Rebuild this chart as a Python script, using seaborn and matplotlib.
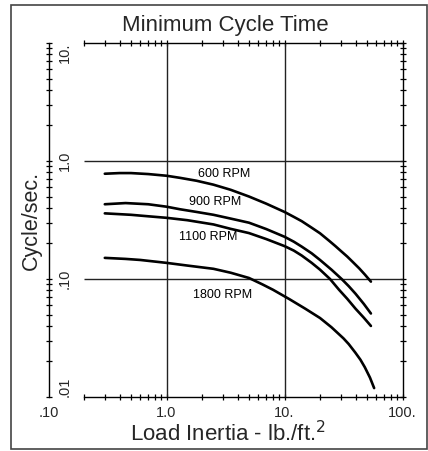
import pandas as pd
import seaborn as sns
import matplotlib.pyplot as plt
from matplotlib.ticker import LogLocator, NullFormatter
from matplotlib.patches import Rectangle

# values (load inertia lb-ft^2 -> cycles/sec)
inertia_600 = [0.3, 0.4, 0.5, 0.7, 1.0, 1.3, 1.8, 2.5, 3.5, 5, 7, 10, 12, 14, 17,
               20, 24, 27, 30, 34, 38, 43, 48, 54]
cycles_600 = [0.78, 0.79, 0.79, 0.775, 0.75, 0.72, 0.68, 0.63, 0.57, 0.50, 0.435,
              0.37, 0.336, 0.309, 0.272, 0.244, 0.21, 0.19, 0.173, 0.155, 0.139,
              0.123, 0.109, 0.095]

inertia_900 = [0.3, 0.45, 0.7, 1.0, 1.3, 1.8, 2.5, 3.5, 5, 7, 10, 12, 14, 17, 20,
               25, 30.5, 35, 40, 47, 54]
cycles_900 = [0.43, 0.44, 0.43, 0.41, 0.39, 0.37, 0.35, 0.325, 0.30, 0.265, 0.228,
              0.207, 0.188, 0.165, 0.145, 0.12, 0.10, 0.087, 0.075, 0.0615, 0.051]

inertia_1100 = [0.3, 0.5, 0.7, 1.0, 1.5, 2.5, 3.5, 5, 7, 10, 12, 14, 17, 20, 24.3,
                29, 34, 40, 47, 54]
cycles_1100 = [0.36, 0.35, 0.34, 0.33, 0.315, 0.29, 0.266, 0.245, 0.218, 0.19,
               0.174, 0.158, 0.137, 0.12, 0.10, 0.081, 0.068, 0.056, 0.047, 0.040]

inertia_1800 = [0.3, 0.45, 0.6, 1.0, 1.5, 2.5, 3.5, 5, 6.5, 8, 11, 15, 20, 25,
                31.6, 35, 39.8, 44, 47.9, 53, 57.5]
cycles_1800 = [0.151, 0.148, 0.145, 0.137, 0.13, 0.122, 0.113, 0.102, 0.090,
               0.081, 0.0675, 0.056, 0.0467, 0.039, 0.0314, 0.0281, 0.0238,
               0.0207, 0.0179, 0.0146, 0.0119]

rpm_names = ["600 RPM", "900 RPM", "1100 RPM", "1800 RPM"]
label_x = [3.1, 2.6, 2.25, 3.0]
label_y = [0.78, 0.45, 0.228, 0.073]

x_ticks = [0.1, 1, 10, 100]
x_ticklabels = [".10", "1.0", "10.", "100."]
y_ticks = [0.01, 0.1, 1, 10]
y_ticklabels = [".01", ".10", "1.0", "10."]

series = [(inertia_600, cycles_600), (inertia_900, cycles_900),
          (inertia_1100, cycles_1100), (inertia_1800, cycles_1800)]
frames = []
for name, (xs, ys) in zip(rpm_names, series):
    frames.append(pd.DataFrame({"inertia": xs, "cycles": ys, "rpm": name}))
dataset = pd.concat(frames, ignore_index=True)

sns.set_theme(style="ticks")
plt.rcParams['font.family'] = ['Liberation Sans', 'DejaVu Sans']

fig = plt.figure(figsize=(4.28, 4.51), dpi=100)
ax = fig.add_axes([48.5 / 428, 1 - 397 / 451, 354 / 428, 354 / 451])
ax.set_xscale('log')
ax.set_yscale('log')

# grid lines (horizontal ones start at 0.2 like the original)
ax.vlines([1, 10], 0.01, 10, color='#222222', lw=1.0, zorder=1)
ax.hlines([0.1, 1], 0.2, 100, color='#222222', lw=1.0, zorder=1)

sns.lineplot(data=dataset, x='inertia', y='cycles', hue='rpm',
             palette=['black'] * 4, linewidth=1.9, legend=False,
             errorbar=None, ax=ax, zorder=3)

for name, lx, ly in zip(rpm_names, label_x, label_y):
    ax.text(lx, ly, name, ha='center', va='center', fontsize=9, color='black')

ax.set_xlim(0.1, 100)
ax.set_ylim(0.01, 10)

for side in ['left', 'right', 'top', 'bottom']:
    ax.spines[side].set_visible(True)
    ax.spines[side].set_color('black')
    ax.spines[side].set_linewidth(1.0)
ax.spines['bottom'].set_bounds(0.2, 100)
ax.spines['top'].set_bounds(0.2, 100)

ax.set_xticks(x_ticks, x_ticklabels)
ax.set_yticks(y_ticks, y_ticklabels, rotation=90, va='center')
ax.xaxis.set_minor_locator(LogLocator(base=10, subs=range(2, 10)))
ax.yaxis.set_minor_locator(LogLocator(base=10, subs=range(2, 10)))
ax.xaxis.set_minor_formatter(NullFormatter())
ax.yaxis.set_minor_formatter(NullFormatter())

ax.tick_params(axis='both', which='both', direction='inout', length=4.5,
               width=0.9, color='black', top=True, right=True,
               labeltop=False, labelright=False, labelsize=10.5)
ax.tick_params(axis='x', which='major', pad=4.5)
ax.tick_params(axis='y', which='major', pad=-19)

# no tick mark at .10 on the x axis (axis line starts at .2)
t0 = ax.xaxis.get_major_ticks()[0]
t0.tick1line.set_visible(False)
t0.tick2line.set_visible(False)
ax.yaxis.get_major_ticks()[-1].label1.set_va('top')
ax.yaxis.get_major_ticks()[0].label1.set_va('bottom')

ax.set_title("Minimum Cycle Time", fontsize=16, pad=9)
ax.set_xlabel("Load Inertia - lb./ft.$^2$", fontsize=16)
ax.set_ylabel("Cycle/sec.", fontsize=15.5)
ax.xaxis.set_label_coords(0.507, -0.068)
ax.yaxis.set_label_coords(-0.02, 0.5)

fig.patches.append(Rectangle((11 / 428, 2 / 451), 416 / 428, 444 / 451,
                             transform=fig.transFigure, fill=False,
                             edgecolor='#444444', linewidth=1.2))

plt.savefig("out.png", dpi=100)
